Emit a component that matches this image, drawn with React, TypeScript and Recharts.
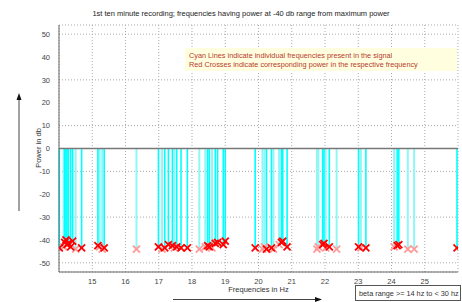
import React from 'react';
import { ComposedChart, Scatter, ErrorBar, XAxis, YAxis, CartesianGrid, ReferenceLine } from 'recharts';

// frequencies (Hz) and their power (db)
const strongFreq = [
  14.01, 14.17, 14.21, 14.24, 14.28, 14.35, 14.41, 14.68,
  15.17, 15.36,
  16.99, 17.18, 17.29, 17.41, 17.54, 17.67, 17.86,
  18.47, 18.52, 18.7, 18.77, 18.94, 19.0,
  19.9, 20.24, 20.39, 20.69, 20.73, 20.86,
  21.93, 21.97, 22.13,
  23.01, 23.23,
  24.17, 24.22,
  25.97,
];
const strongPower = [
  -43.5, -41, -40, -42, -41.5, -43, -40.5, -43.5,
  -42.5, -43.5,
  -43, -43.5, -42, -42.5, -43, -43.5, -43.5,
  -42.5, -43, -41.5, -41, -42, -40.5,
  -43.5, -44, -43.5, -41, -40.5, -43,
  -42, -41.5, -43,
  -43, -43.5,
  -42.5, -42,
  -43.5,
];
const weakFreq = [
  14.14, 14.5, 15.22, 15.3, 16.33, 17.1, 17.47, 18.22, 18.4, 18.6,
  20.12, 20.18, 20.45, 20.62, 21.76, 21.8, 22.02, 22.35,
  23.08, 24.08, 24.49, 24.68,
];
const weakPower = [
  -43, -44, -43, -44, -44, -44, -43.5, -44, -43, -43.5,
  -44, -43, -44, -42, -44, -43, -43.5, -44,
  -43.5, -43, -44, -44,
];

const xTicks = [15, 16, 17, 18, 19, 20, 21, 22, 23, 24, 25];
const yTicks = [-50, -40, -30, -20, -10, 0, 10, 20, 30, 40, 50];

const strongData = strongFreq.map((f, i) => ({ freq: f, power: strongPower[i] }));
const weakData = weakFreq.map((f, i) => ({ freq: f, power: weakPower[i] }));

const font = '"Liberation Sans", Arial, sans-serif';

const makeCross = (color: string) => (props: any) => {
  const { cx, cy } = props;
  if (cx == null || cy == null) return <g />;
  const s = 3.5;
  return (
    <g stroke={color} strokeWidth={1.8}>
      <line x1={cx - s} y1={cy - s} x2={cx + s} y2={cy + s} />
      <line x1={cx - s} y1={cy + s} x2={cx + s} y2={cy - s} />
    </g>
  );
};

const stem = (d: any) => [0, -d.power];

export default function App() {
  return (
    <div style={{ position: 'absolute', left: 0, top: 0, width: 462, height: 302, background: '#fff', fontFamily: font }}>
      <ComposedChart width={462} height={302} margin={{ top: 25, right: 4, bottom: 12, left: 29 }}>
        <CartesianGrid stroke="#aaa" strokeDasharray="1 2" />
        <XAxis
          type="number"
          dataKey="freq"
          domain={[14, 26]}
          ticks={xTicks}
          allowDataOverflow
          height={18}
          tickLine={false}
          axisLine={{ stroke: '#666' }}
          tick={{ fontSize: 7.5, fill: '#444', fontFamily: font }}
          tickMargin={1}
        />
        <YAxis
          type="number"
          dataKey="power"
          domain={[-54, 54]}
          ticks={yTicks}
          allowDataOverflow
          width={30}
          tickLine={false}
          axisLine={{ stroke: '#666' }}
          tick={{ fontSize: 7.5, fill: '#444', fontFamily: font }}
          tickMargin={3}
        />
        <Scatter data={weakData} dataKey="power" shape={makeCross('#ff9a9a')} isAnimationActive={false}>
          <ErrorBar dataKey={stem} direction="y" width={0} stroke="#8ff7f7" strokeWidth={2} isAnimationActive={false} />
        </Scatter>
        <Scatter data={strongData} dataKey="power" shape={makeCross('#ff0000')} isAnimationActive={false}>
          <ErrorBar dataKey={stem} direction="y" width={0} stroke="#00ffff" strokeWidth={1.6} isAnimationActive={false} />
        </Scatter>
        <ReferenceLine y={0} stroke="#777" strokeWidth={1.5} />
      </ComposedChart>

      <div style={{ position: 'absolute', left: 0, width: 462, top: 9, textAlign: 'center', fontSize: 7.5, lineHeight: '9px', color: '#222', paddingLeft: 20, boxSizing: 'border-box' }}>
        1st ten minute recording; frequencies having power at -40 db range from maximum power
      </div>

      <div style={{ position: 'absolute', left: 185, top: 48, width: 272, height: 23, background: '#ffffe0', color: '#b83a2e', fontSize: 7.3, lineHeight: '9px', padding: '3px 4px', boxSizing: 'border-box', whiteSpace: 'nowrap' }}>
        <div>Cyan Lines indicate individual frequencies present in the signal</div>
        <div>Red Crosses indicate corresponding power in the respective frequency</div>
      </div>

      <div style={{ position: 'absolute', left: 59, width: 399, top: 285, textAlign: 'center', fontSize: 7.5, lineHeight: '9px', color: '#333' }}>
        Frequencies in Hz
      </div>

      <div style={{ position: 'absolute', left: 38, top: 148, transform: 'translate(-50%, -50%) rotate(-90deg)', fontSize: 7.5, lineHeight: '9px', color: '#333', whiteSpace: 'nowrap' }}>
        Power in db
      </div>

      <div style={{ position: 'absolute', left: 355, top: 285, width: 106, height: 16, border: '1px solid #555', boxSizing: 'border-box', fontSize: 7.3, lineHeight: '9px', color: '#333', padding: '3px 0 0 3px', whiteSpace: 'nowrap', background: '#fff' }}>
        beta range &gt;= 14 hz to &lt; 30 hz
      </div>

      <svg width={462} height={302} style={{ position: 'absolute', left: 0, top: 0, pointerEvents: 'none' }}>
        <line x1={19} y1={211} x2={19} y2={98} stroke="#444" strokeWidth={1} />
        <polygon points="19,93 16.5,100 21.5,100" fill="#111" />
        <line x1={173} y1={299.5} x2={317} y2={299.5} stroke="#444" strokeWidth={1} />
        <polygon points="322,299.5 315,297 315,302" fill="#111" />
      </svg>
    </div>
  );
}
